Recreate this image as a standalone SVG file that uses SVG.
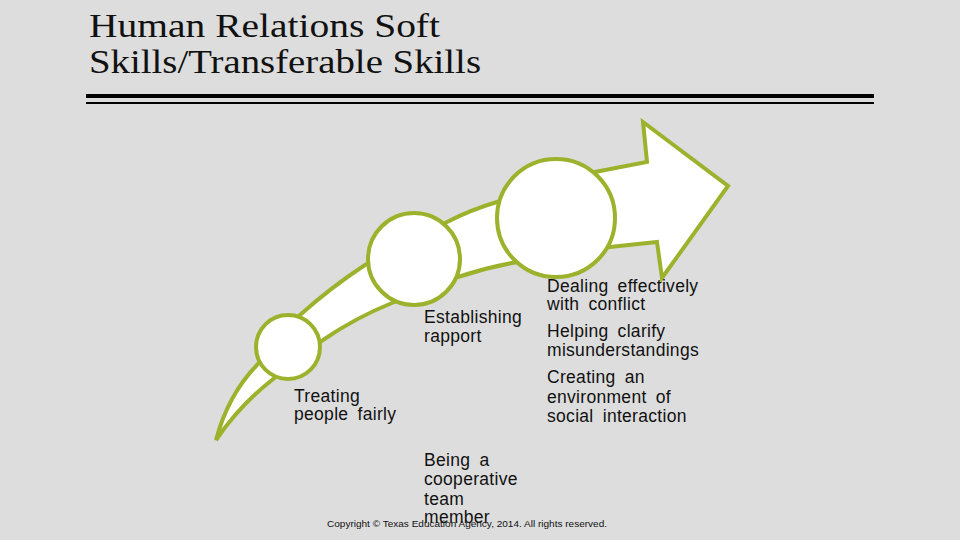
<svg xmlns="http://www.w3.org/2000/svg" width="960" height="540" viewBox="0 0 960 540">
<style>
.title{font-family:"Liberation Serif","Times New Roman",serif;font-size:33px;fill:#111}
.body{font-family:"Liberation Sans",Arial,sans-serif;font-size:17.5px;fill:#111;word-spacing:4px;letter-spacing:0.3px}
.shape{fill:#fff;stroke:#9db22c;stroke-width:4;stroke-linejoin:miter}
.copy{font-family:"Liberation Sans",Arial,sans-serif;font-size:9.5px;fill:#111}
</style>
<rect width="960" height="540" fill="#dddddd"/>
<g id="title">
<text class="title" x="89" y="37" textLength="351" lengthAdjust="spacingAndGlyphs">Human Relations Soft</text>
<text class="title" x="89" y="73" textLength="392" lengthAdjust="spacingAndGlyphs">Skills/Transferable Skills</text>
<rect x="86" y="94" width="788" height="4" fill="#000"/>
<rect x="86" y="102" width="788" height="2" fill="#000"/>
</g>
<g id="connectors">
<path class="shape" d="M216,440 Q228,395 257,365 L300,315 Q330,288 365,265 L447,222 Q470,210 497,202 L595,172 L647,162 L643,122 L728,186 L662,278 L657,242 L610,247 L512,263 Q485,268 458,277 L392,303 Q355,318 323,340 L272,380 Q240,405 216,440 Z"/>
</g>
<g id="node-small">
<circle class="shape" cx="288" cy="347" r="32"/>
<text class="body" x="294" y="401.5">Treating</text>
<text class="body" x="294" y="420">people fairly</text>
</g>
<g id="node-medium">
<circle class="shape" cx="414" cy="259" r="46"/>
<text class="body" x="424" y="322.5">Establishing</text>
<text class="body" x="424" y="341.5">rapport</text>
</g>
<g id="node-large">
<circle class="shape" cx="556" cy="218" r="59"/>
<text class="body" x="547" y="291.5">Dealing effectively</text>
<text class="body" x="547" y="310">with conflict</text>
<text class="body" x="547" y="337">Helping clarify</text>
<text class="body" x="547" y="356">misunderstandings</text>
<text class="body" x="547" y="383">Creating an</text>
<text class="body" x="547" y="402.5">environment of</text>
<text class="body" x="547" y="422">social interaction</text>
</g>
<g id="node-team">
<text class="body" x="424" y="466">Being a</text>
<text class="body" x="424" y="485">cooperative</text>
<text class="body" x="424" y="504.5">team</text>
<text class="body" x="424" y="523">member</text>
</g>
<text class="copy" x="327" y="526.5" textLength="280" lengthAdjust="spacingAndGlyphs">Copyright © Texas Education Agency, 2014. All rights reserved.</text>
</svg>
